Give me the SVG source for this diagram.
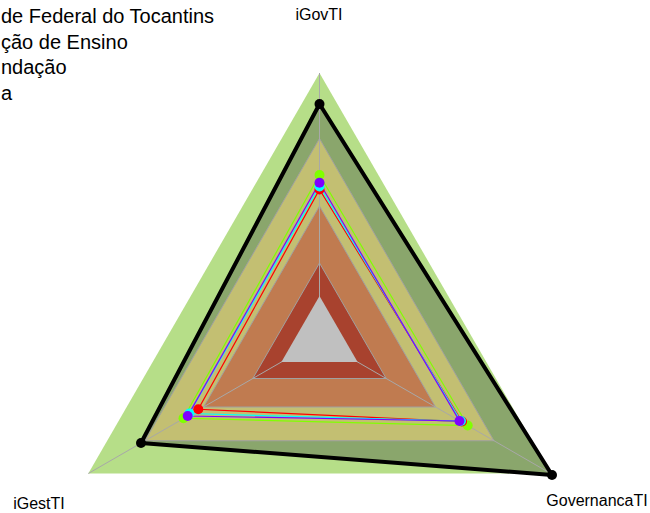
<svg xmlns="http://www.w3.org/2000/svg" width="650" height="513" viewBox="0 0 650 513">
<style>
text{font-family:"Liberation Sans",Arial,sans-serif;fill:#000}
.leg{font-size:20px;text-anchor:start}
.ax{font-size:16px;text-anchor:middle}
.band{stroke:#a0a0a0;stroke-width:1}
.axis{stroke:#a8a8a8;stroke-width:1;fill:none}
.s{fill:none;stroke-width:1.2}
</style>
<rect width="650" height="513" fill="#ffffff"/>
<g id="legend">
<text class="leg" x="1" y="23">de Federal do Tocantins</text>
<text class="leg" x="1" y="48.5">ção de Ensino</text>
<text class="leg" x="1" y="74">ndação</text>
<text class="leg" x="1" y="99.5">a</text>
</g>
<g id="bands">
<polygon id="band5" points="319.5,73 550.7,473.5 88.3,473.5" fill="#b6de88" stroke="none"/>
<polygon id="max-area" points="319.5,104 552,475 141,443" fill="#8aa66c" stroke="none"/>
<polygon id="band4" class="band" points="319.5,138.5 494,440.75 145,440.75" fill="#c3bf72"/>
<polygon id="band3" class="band" points="319.5,206 435.5,407 203.5,407" fill="#c07b50"/>
<polygon id="band2" class="band" points="319.5,263 386.2,378.5 252.8,378.5" fill="#a8422e"/>
</g>
<g id="axes">
<line class="axis" x1="319.5" y1="340" x2="319.5" y2="73"/>
<line class="axis" x1="319.5" y1="340" x2="550.7" y2="473.5"/>
<line class="axis" x1="319.5" y1="340" x2="88.3" y2="473.5"/>
</g>
<polygon id="band1" points="319.5,296 357.6,362 281.4,362" fill="#c0c0c0"/>
<g id="connectors">
<polygon class="s" stroke="#80ff00" points="319.5,175 467.7,425.5 183.5,418.3"/>
<polygon class="s" stroke="#ff0000" points="319.5,189.5 462,421.5 198.3,409.3"/>
<polygon class="s" stroke="#00ffff" points="319.5,186.5 461,421 189.3,413.5"/>
<polygon class="s" stroke="#8000ff" points="319.5,182.7 459.5,421 187.7,416"/>
<polygon fill="none" stroke="#000000" stroke-width="4" stroke-linejoin="round" points="319.5,104 552,475 141,443"/>
</g>
<g id="points">
<g id="s-green" fill="#80ff00">
<circle cx="319.5" cy="175" r="5"/><circle cx="467.7" cy="425.5" r="5"/><circle cx="183.5" cy="418.3" r="5"/>
</g>
<g id="s-red" fill="#ff0000">
<circle cx="319.5" cy="189.5" r="5"/><circle cx="462" cy="421.5" r="5"/><circle cx="198.3" cy="409.3" r="5"/>
</g>
<g id="s-cyan" fill="#00ffff">
<circle cx="319.5" cy="186.5" r="5"/><circle cx="461" cy="421" r="5"/><circle cx="189.3" cy="413.5" r="5"/>
</g>
<g id="s-purple" fill="#8000ff">
<circle cx="319.5" cy="182.7" r="5"/><circle cx="459.5" cy="421" r="5"/><circle cx="187.7" cy="416" r="5"/>
</g>
<g id="s-black" fill="#000000">
<circle cx="319.5" cy="104" r="5"/><circle cx="552" cy="475" r="5"/><circle cx="141" cy="443" r="5"/>
</g>
</g>
<g id="labels">
<text class="ax" x="319" y="19.5">iGovTI</text>
<text class="ax" x="39" y="508.5">iGestTI</text>
<text class="ax" x="597" y="506">GovernancaTI</text>
</g>
</svg>
